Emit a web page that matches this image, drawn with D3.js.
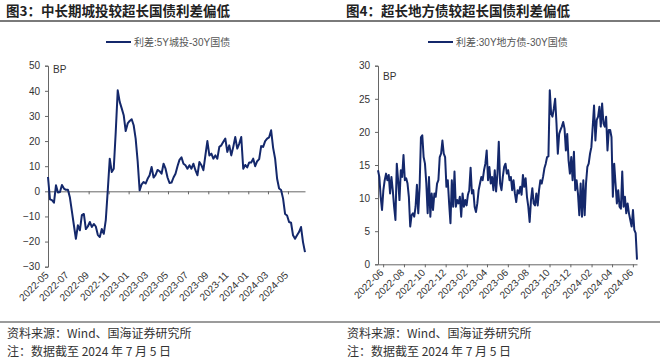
<!DOCTYPE html>
<html><head><meta charset="utf-8">
<script src="https://cdn.jsdelivr.net/npm/d3@7"></script>
<style>
  body { margin: 0; background: #fff; }
  svg text { font-family: "Liberation Sans", Arial, "Noto Sans CJK SC", sans-serif; }
  .cjk { font-family: "Noto Sans CJK SC", sans-serif; }
  .axis path, .axis line { stroke: #666; }
  .axis text { fill: #333; font-size: 10px; }
</style>
</head>
<body>
<svg id="chart" width="660" height="358"></svg>
<script>
// ---- data (BP), roughly weekly samples
const spreadCityInvest = [5.7, -3.2, -3.5, -4.5, 2.4, -0.5, -0.3, 2.5, 1.1, 0.6, 0.6, -2.5, -8, -13.5, -18.9, -13.5, -15.5, -9.5, -9, -15,
  -14, -12.2, -14.2, -13, -14, -17.3, -18.2, -15, -16.9, -11.5, 0.4, 13, 7.7, 9, 23.6, 40.2, 35.6, 33, 30.3, 24,
  27, 28, 28.7, 26.3, 21, 12, 0.4, 2.8, 3.7, 3.1, 5, 6.4, 9.7, 5.5, 6.5, 8.5, 8, 7, 11, 9,
  5.5, 3.3, 3.5, 5.5, 7, 10, 12.5, 13.5, 11, 10.4, 9, 10.4, 9, 11, 8.4, 6.4, 11.7, 10.4, 8.4, 14.3,
  20, 14.3, 15, 13, 14.3, 13, 17.7, 18.3, 19.7, 21, 15.7, 18.3, 14.3, 17.7, 21.6, 17, 19, 21.6, 9, 10.5,
  9.5, 11.5, 11.5, 13, 10, 12, 12.8, 18, 17.7, 20, 21, 21.5, 24.3, 17.3, 13, 5, 1.1, 0.5, -2.9, -9,
  -9.6, -12.2, -12.5, -17.5, -18.9, -17.5, -16.2, -14.2, -20.2, -24.2];

const spreadLocalGov = [14.2, 13.2, 10.2, 8.2, 11.2, 12.7, 13.7, 12.7, 13.5, 10.7, 13.2, 11.2, 8.7, 6.7, 15.2, 12.7, 9.7, 14.2, 13.2, 16.5,
  12.7, 13.0, 12.2, 10.2, 5.7, 7.4, 7.7, 7.2, 8.7, 12.0, 7.7, 11.7, 19.2, 19.5, 16.2, 15.2, 12.2, 7.7, 13.2, 7.2,
  10.7, 8.2, 10.7, 10.2, 12.2, 12.7, 16.2, 16.7, 18.7, 16.7, 16.2, 11.7, 12.7, 9.2, 6.2, 12.7, 8.7, 14.0, 8.7, 9.7,
  9.2, 10.2, 7.2, 10.7, 8.7, 9.7, 8.9, 10.5, 11.2, 14.6, 10.7, 11.2, 8.7, 7.9, 9.2, 11.2, 12.2, 13.2, 12.7, 14.2,
  15.2, 17.2, 12.7, 14.7, 12.2, 13.2, 11.2, 14.2, 11.0, 13.7, 18.5, 12.2, 11.2, 13.2, 14.7, 15.2, 13.7, 14.2, 12.7, 13.2,
  11.2, 12.7, 10.7, 9.4, 11.2, 10.7, 11.7, 10.5, 13.5, 11.7, 13.0, 10.2, 8.7, 6.4, 9.7, 11.5, 9.2, 8.9, 10.7, 8.9,
  11.2, 12.7, 12.2, 13.2, 14.5, 15.2, 16.2, 16.3, 26.3, 22.8, 22.3, 23.5, 25.0, 21.3, 16.7, 19.7, 20.3, 20.8, 21.5, 20.5,
  17.2, 19.7, 15.7, 13.7, 16.2, 12.7, 17.0, 11.2, 12.7, 10.7, 7.4, 12.2, 7.2, 12.7, 7.4, 12.2, 14.7, 15.2, 16.7, 17.7,
  20.8, 24.0, 18.7, 21.8, 22.3, 23.8, 20.8, 24.3, 21.3, 20.8, 22.3, 17.2, 20.3, 20.3, 19.2, 10.2, 15.2, 12.2, 9.2, 11.2,
  8.7, 8.4, 14.0, 8.7, 10.2, 7.7, 9.2, 7.7, 6.7, 5.7, 8.2, 5.2, 4.7, 0.7];

const leftMonths = ["2022-05", "2022-07", "2022-09", "2022-11", "2023-01", "2023-03", "2023-05",
  "2023-07", "2023-09", "2023-11", "2024-01", "2024-03", "2024-05"];
const rightMonths = ["2022-06", "2022-08", "2022-10", "2022-12", "2023-02", "2023-04", "2023-06",
  "2023-08", "2023-10", "2023-12", "2024-02", "2024-04", "2024-06"];
const leftYTicks = [-30, -20, -10, 0, 10, 20, 30, 40, 50];
const rightYTicks = [0, 5, 10, 15, 20, 25, 30];

const panels = [
  { title: "图3：中长期城投较超长国债利差偏低", legend: "利差:5Y城投-30Y国债",
    values: spreadCityInvest, span: ["2022-04-30", "2024-06-22"], months: leftMonths,
    yDomain: [-30, 50], yTicks: leftYTicks,
    left: 48, right: 305, top: 65.7, bottom: 266.7, titleX: 6, legendX: 106, textX: 7 },
  { title: "图4：超长地方债较超长国债利差偏低", legend: "利差:30Y地方债-30Y国债",
    values: spreadLocalGov, span: ["2022-05-17", "2024-06-13"], months: rightMonths,
    yDomain: [0, 30], yTicks: rightYTicks,
    left: 378, right: 637, top: 65.7, bottom: 264.3, titleX: 346, legendX: 428, textX: 347 }
];

const svg = d3.select("#chart");
const parseDay = d3.timeParse("%Y-%m-%d");
const parseMonth = d3.timeParse("%Y-%m");

// horizontal rules
svg.append("line").attr("x1", 0).attr("x2", 660).attr("y1", 21).attr("y2", 21)
   .attr("stroke", "#7a7a7a").attr("stroke-width", 2);
svg.append("line").attr("x1", 0).attr("x2", 660).attr("y1", 322).attr("y2", 322)
   .attr("stroke", "#7a7a7a").attr("stroke-width", 1.5);

panels.forEach(p => {
  const t0 = parseDay(p.span[0]), t1 = parseDay(p.span[1]);
  const x = d3.scaleTime().domain([t0, t1]).range([p.left, p.right]);
  const y = d3.scaleLinear().domain(p.yDomain).range([p.bottom, p.top]);
  const n = p.values.length;
  const pts = p.values.map((v, i) => ({ date: new Date(+t0 + (t1 - t0) * i / (n - 1)), v: v }));
  const tickDates = p.months.map(parseMonth);

  // title
  svg.append("text").attr("class", "cjk").attr("x", p.titleX).attr("y", 16)
     .attr("font-size", 13.5).attr("font-weight", "bold").attr("fill", "#222").text(p.title);

  // legend
  svg.append("line").attr("x1", p.legendX).attr("x2", p.legendX + 25).attr("y1", 42).attr("y2", 42)
     .attr("stroke", "#14286b").attr("stroke-width", 2);
  svg.append("text").attr("x", p.legendX + 28).attr("y", 45.5)
     .attr("font-size", 10).attr("fill", "#555").text(p.legend);

  // y axis
  svg.append("g").attr("class", "axis")
     .attr("transform", "translate(" + p.left + ",0)")
     .call(d3.axisLeft(y).tickValues(p.yTicks).tickSize(3).tickPadding(5).tickSizeOuter(3));

  svg.append("text").attr("x", p.left + 5).attr("y", y(p.yDomain[1]) + (p.yDomain[1] === 50 ? 7 : 14))
     .attr("font-size", 10).attr("fill", "#333").text("BP");

  // x axis line with ticks at zero
  const y0 = y(Math.max(0, p.yDomain[0]));
  svg.append("g").attr("class", "axis")
     .attr("transform", "translate(0," + y0 + ")")
     .call(d3.axisBottom(x).tickValues(tickDates).tickFormat("").tickSize(3).tickSizeOuter(0));

  // x tick labels, rotated, at the bottom of the plot
  svg.append("g").selectAll("text").data(tickDates).join("text")
     .attr("transform", d => "translate(" + (x(d) + 1) + "," + (p.bottom + 9) + ") rotate(-45)")
     .attr("text-anchor", "end").attr("font-size", 10).attr("fill", "#333")
     .text(d => d3.timeFormat("%Y-%m")(d));

  // series
  svg.append("path").datum(pts)
     .attr("fill", "none").attr("stroke", "#14286b").attr("stroke-width", 2)
     .attr("stroke-linejoin", "round")
     .attr("d", d3.line().x(d => x(d.date)).y(d => y(d.v)));

  // footers
  svg.append("text").attr("class", "cjk").attr("x", p.textX).attr("y", 338)
     .attr("font-size", 12).attr("fill", "#333").text("资料来源：Wind、国海证券研究所");
  svg.append("text").attr("class", "cjk").attr("x", p.textX).attr("y", 356)
     .attr("font-size", 12).attr("fill", "#333").text("注：数据截至 2024 年 7 月 5 日");
});
</script>
</body></html>
